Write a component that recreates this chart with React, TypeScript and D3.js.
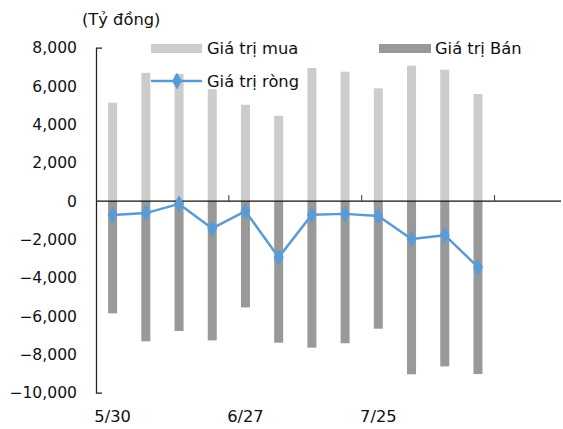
import React, { useEffect, useRef } from 'react'
import * as d3 from 'd3'

const weeks = ['5/30', '6/6', '6/13', '6/20', '6/27', '7/4', '7/11', '7/18', '7/25', '8/1', '8/8', '8/15', '8/22', '8/29']
const tickWeeks = ['5/30', '6/27', '7/25']
const buyValues = [5130, 6690, 6630, 5840, 5020, 4450, 6940, 6750, 5880, 7060, 6850, 5580]
const sellValues = [-5860, -7320, -6780, -7270, -5550, -7390, -7650, -7420, -6660, -9040, -8630, -9030]
const netValues = [-730, -630, -150, -1430, -530, -2940, -710, -670, -780, -1980, -1780, -3450]
const yTicks = [8000, 6000, 4000, 2000, 0, -2000, -4000, -6000, -8000, -10000]

const W = 563
const H = 429
const margin = { left: 96, right: 2, top: 47.7, bottom: 36.3 }
const font = '"DejaVu Sans", sans-serif'
const fs = 16.3

export default function App() {
  const yAxisRef = useRef<SVGGElement>(null)

  const x = d3.scaleBand<string>()
    .domain(weeks)
    .range([margin.left, W - margin.right])
  const y = d3.scaleLinear()
    .domain([-10000, 8000])
    .range([H - margin.bottom, margin.top])

  const barW = 9
  const cx = (i: number) => (x(weeks[i]) as number) + x.bandwidth() / 2

  const line = d3.line<number>()
    .x((_, i) => cx(i))
    .y(d => y(d))

  useEffect(() => {
    if (yAxisRef.current) {
      const g = d3.select(yAxisRef.current)
      g.call(d3.axisLeft(y).tickValues(yTicks).tickSizeInner(0).tickSizeOuter(-6).tickPadding(19).tickFormat(d3.format(',')))
      g.select('.domain').attr('stroke', '#222').attr('stroke-width', 1.3)
      g.selectAll('text').attr('font-family', font).attr('font-size', 15.6).attr('fill', '#111')
    }
  }, [])

  const diamond = d3.symbol().type(d3.symbolDiamond).size(85)()

  return (
    <svg width={W} height={H} style={{ position: 'absolute', left: 0, top: 0, background: '#fff' }}>
      <text x={82} y={25} fontFamily={font} fontSize={fs} fill="#111">(Tỷ đồng)</text>

      {buyValues.map((v, i) => (
        <rect key={'b' + i} x={cx(i) - barW / 2} y={y(v)} width={barW} height={y(0) - y(v)} fill="#cccccc" />
      ))}
      {sellValues.map((v, i) => (
        <rect key={'s' + i} x={cx(i) - barW / 2} y={y(0)} width={barW} height={y(v) - y(0)} fill="#999999" />
      ))}

      <line x1={margin.left} x2={W - margin.right} y1={y(0)} y2={y(0)} stroke="#111" strokeWidth={1.3} />
      {weeks.filter((_, i) => i % 4 === 0 && i > 0).map(w => (
        <line key={'t' + w} x1={x(w)} x2={x(w)} y1={y(0)} y2={y(0) - 6} stroke="#333" strokeWidth={1} />
      ))}

      <g ref={yAxisRef} transform={`translate(${margin.left},0)`} />

      <path d={line(netValues) ?? ''} fill="none" stroke="#5b9bd5" strokeWidth={2.5} strokeLinejoin="round" />
      {netValues.map((v, i) => (
        <path key={'m' + i} d={diamond ?? ''} transform={`translate(${cx(i)},${y(v)})`} fill="#5b9bd5" />
      ))}

      {tickWeeks.map(w => (
        <text key={'l' + w} x={(x(w) as number) + x.bandwidth() / 2} y={422} textAnchor="middle"
          fontFamily={font} fontSize={fs} fill="#111">{w}</text>
      ))}

      <g fontFamily={font} fontSize={fs} fill="#111">
        <rect x={151} y={44} width={51} height={9} fill="#cccccc" />
        <text x={207} y={54}>Giá trị mua</text>
        <rect x={379} y={44} width={52} height={9} fill="#999999" />
        <text x={435} y={54}>Giá trị Bán</text>
        <line x1={151} x2={202} y1={81} y2={81} stroke="#5b9bd5" strokeWidth={2.5} />
        <path d={diamond ?? ''} transform="translate(177,81)" fill="#5b9bd5" />
        <text x={207} y={87}>Giá trị ròng</text>
      </g>
    </svg>
  )
}
